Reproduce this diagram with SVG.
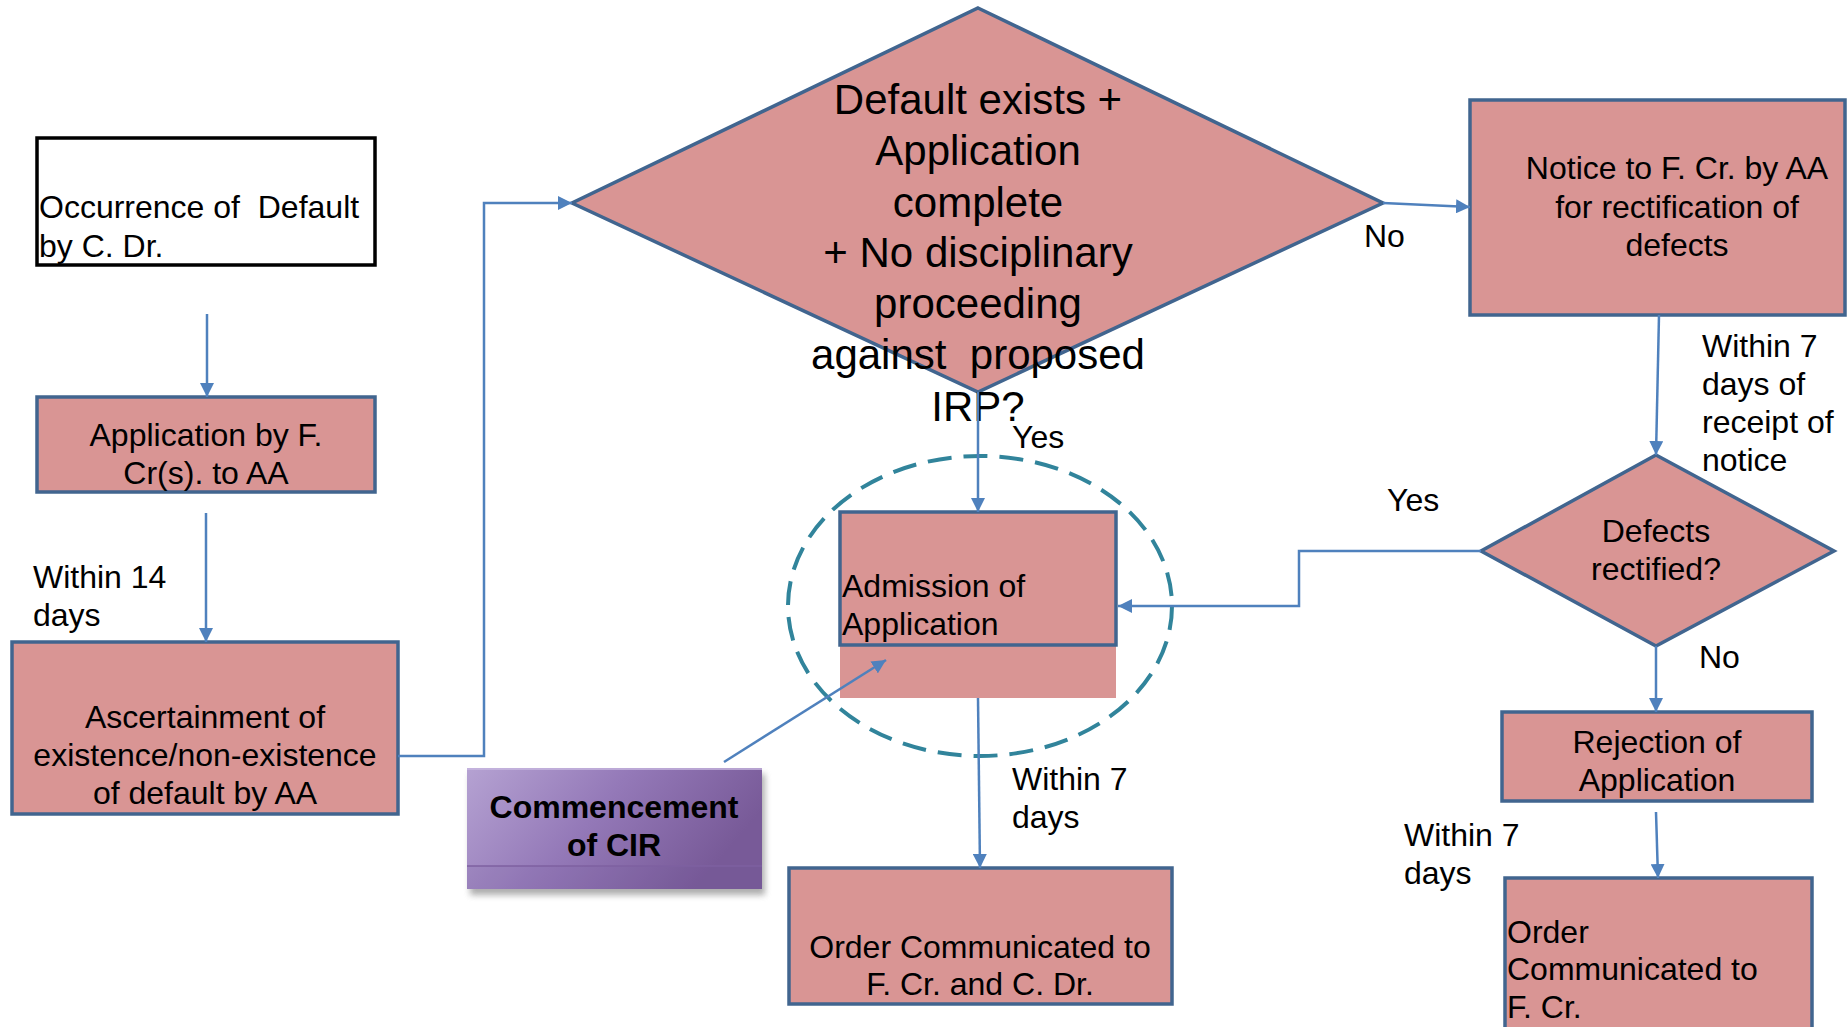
<svg xmlns="http://www.w3.org/2000/svg" width="1847" height="1027" viewBox="0 0 1847 1027">
<style>
text{font-family:"Liberation Sans",Arial,sans-serif;font-size:32px;fill:#000}
.box{fill:#D99594;stroke:#41658F;stroke-width:3.5}
.c{text-anchor:middle}
.big{font-size:42px}
.bold{font-weight:bold}
.conn{fill:none;stroke:#4F81BD;stroke-width:2.5}
</style>
<defs>
<marker id="ah" viewBox="0 0 10 10" refX="10" refY="5" markerUnits="userSpaceOnUse" markerWidth="14" markerHeight="14" orient="auto">
<path d="M0,0 L10,5 L0,10 z" fill="#4F81BD"/>
</marker>
<linearGradient id="purp" x1="0" y1="0" x2="1" y2="0.35">
<stop offset="0" stop-color="#B5A2D2"/>
<stop offset="0.5" stop-color="#9479B8"/>
<stop offset="1" stop-color="#785A98"/>
</linearGradient>
<filter id="sh" x="-10%" y="-10%" width="130%" height="140%">
<feGaussianBlur stdDeviation="3"/>
</filter>
</defs>

<g id="occurrence">
<rect x="37" y="138" width="338" height="127" fill="#fff" stroke="#000" stroke-width="3.5"/>
<text x="39" y="218" xml:space="preserve">Occurrence of  Default</text>
<text x="39" y="257">by C. Dr.</text>
</g>

<g id="application">
<rect class="box" x="37" y="397" width="338" height="95"/>
<text class="c" x="206" y="446">Application by F.</text>
<text class="c" x="206" y="484">Cr(s). to AA</text>
</g>

<g id="ascertainment">
<rect class="box" x="12" y="642" width="386" height="172"/>
<text class="c" x="205" y="728">Ascertainment of</text>
<text class="c" x="205" y="766">existence/non-existence</text>
<text class="c" x="205" y="804">of default by AA</text>
</g>

<g id="decision-main">
<polygon class="box" points="978,8 1383,203 978,392 572,203"/>
<text class="c big" x="978" y="114">Default exists +</text>
<text class="c big" x="978" y="165">Application</text>
<text class="c big" x="978" y="217">complete</text>
<text class="c big" x="978" y="267">+ No disciplinary</text>
<text class="c big" x="978" y="318">proceeding</text>
<text class="c big" x="978" y="369" xml:space="preserve">against  proposed</text>
<text class="c big" x="978" y="421">IRP?</text>
</g>

<g id="notice">
<rect class="box" x="1470" y="100" width="375" height="215"/>
<text class="c" x="1677" y="179">Notice to F. Cr. by AA</text>
<text class="c" x="1677" y="218">for rectification of</text>
<text class="c" x="1677" y="256">defects</text>
</g>

<g id="decision-defects">
<polygon class="box" points="1656,455 1834,551 1656,646 1481,551"/>
<text class="c" x="1656" y="542">Defects</text>
<text class="c" x="1656" y="580">rectified?</text>
</g>

<g id="cir-scope">
<ellipse cx="980" cy="606" rx="192" ry="150" fill="none" stroke="#31849B" stroke-width="4" stroke-dasharray="24 12"/>
</g>

<g id="admission">
<rect x="840" y="645" width="276" height="53" fill="#D99594"/>
<rect class="box" x="840" y="512" width="276" height="133"/>
<text x="842" y="597">Admission of</text>
<text x="842" y="635">Application</text>
</g>

<g id="commencement">
<rect x="470" y="774" width="295" height="121" fill="#777" opacity="0.6" filter="url(#sh)"/>
<rect x="467" y="768" width="295" height="121" fill="url(#purp)"/>
<line x1="467" y1="769" x2="762" y2="769" stroke="#C9B9E0" stroke-width="1.5"/>
<rect x="467" y="866" width="295" height="23" fill="#6F5090" opacity="0.12"/>
<line x1="467" y1="866" x2="762" y2="866" stroke="#7E61A0" stroke-width="1.5"/>
<text class="c bold" x="614" y="818">Commencement</text>
<text class="c bold" x="614" y="856">of CIR</text>
</g>

<g id="order-both">
<rect class="box" x="789" y="868" width="383" height="136"/>
<text class="c" x="980" y="958">Order Communicated to</text>
<text class="c" x="980" y="995">F. Cr. and C. Dr.</text>
</g>

<g id="rejection">
<rect class="box" x="1502" y="712" width="310" height="89"/>
<text class="c" x="1657" y="753">Rejection of</text>
<text class="c" x="1657" y="791">Application</text>
</g>

<g id="order-fcr">
<rect class="box" x="1505" y="878" width="307" height="170"/>
<text x="1507" y="943">Order</text>
<text x="1507" y="980">Communicated to</text>
<text x="1507" y="1018">F. Cr.</text>
</g>

<g id="connectors">
<path class="conn" d="M207,314 L207,397" marker-end="url(#ah)"/>
<path class="conn" d="M206,513 L206,642" marker-end="url(#ah)"/>
<path class="conn" d="M398,756 L484,756 L484,203 L572,203" marker-end="url(#ah)"/>
<path class="conn" d="M978,392 L978,512" marker-end="url(#ah)"/>
<path class="conn" d="M1383,203 L1470,207" marker-end="url(#ah)"/>
<path class="conn" d="M1659,315 L1656,455" marker-end="url(#ah)"/>
<path class="conn" d="M1481,551 L1299,551 L1299,606 L1118,606" marker-end="url(#ah)"/>
<path class="conn" d="M1656,646 L1656,712" marker-end="url(#ah)"/>
<path class="conn" d="M1656,812 L1658,878" marker-end="url(#ah)"/>
<path class="conn" d="M978,698 L980,868" marker-end="url(#ah)"/>
<path class="conn" d="M724,762 L886,660" marker-end="url(#ah)"/>
</g>

<g id="labels">
<text x="33" y="588">Within 14</text>
<text x="33" y="626">days</text>
<text x="1364" y="247">No</text>
<text x="1012" y="448">Yes</text>
<text x="1702" y="357">Within 7</text>
<text x="1702" y="395">days of</text>
<text x="1702" y="433">receipt of</text>
<text x="1702" y="471">notice</text>
<text x="1387" y="511">Yes</text>
<text x="1699" y="668">No</text>
<text x="1404" y="846">Within 7</text>
<text x="1404" y="884">days</text>
<text x="1012" y="790">Within 7</text>
<text x="1012" y="828">days</text>
</g>
</svg>
